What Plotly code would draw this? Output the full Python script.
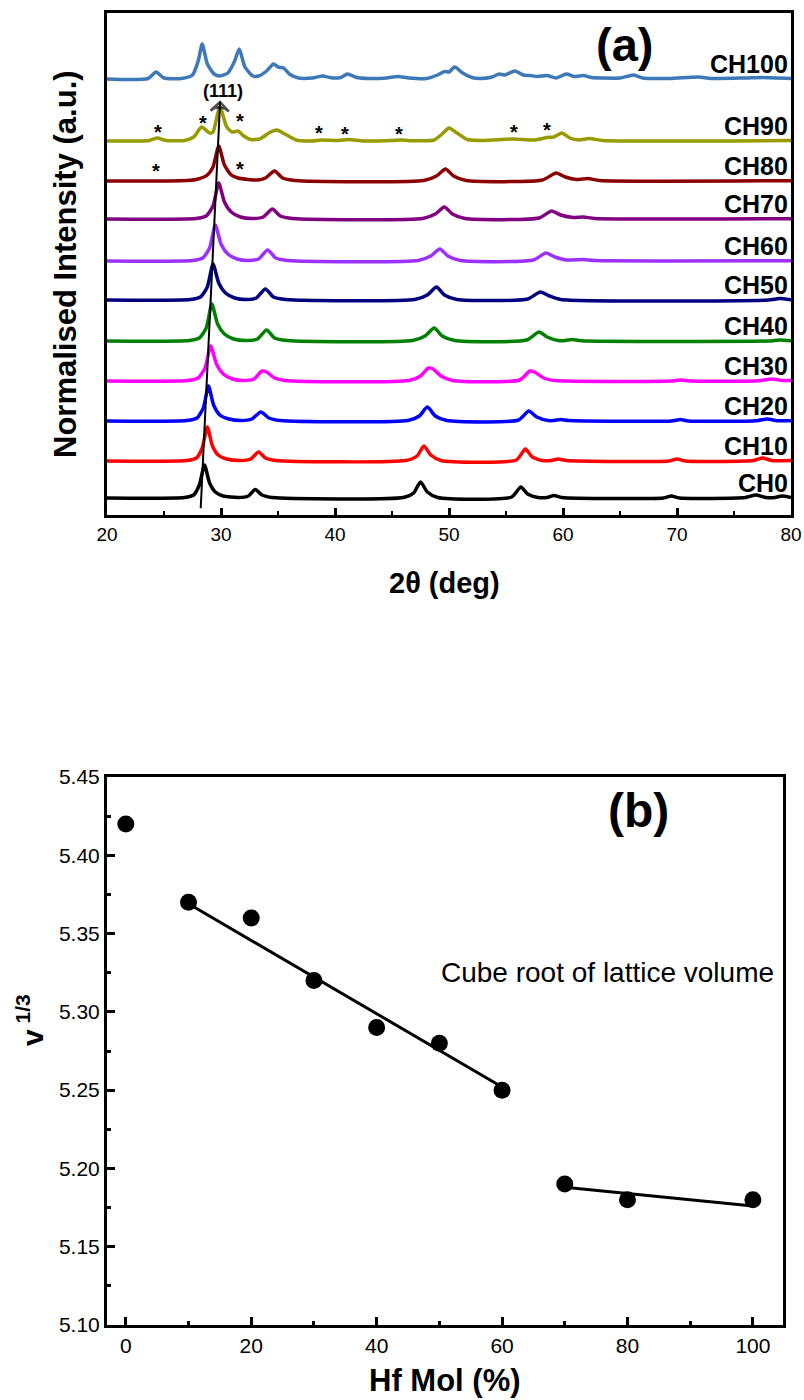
import plotly.graph_objects as go

# ---------------- Panel (a): XRD patterns (2theta, intensity above own baseline) -------------
samples = ["CH0", "CH10", "CH20", "CH30", "CH40", "CH50", "CH60", "CH70", "CH80", "CH90", "CH100"]
colors = ["#000000", "#ff0000", "#0000ff", "#ff00ff", "#008000", "#000080",
          "#9b30ff", "#800080", "#8b0000", "#999900", "#3d79b8"]
stack_offset = [17, 54, 94, 134, 174, 215, 254, 296, 334, 374, 436]

CH0 = [(20, 0), (26.8, 0.5), (27.6, 3), (28.1, 13), (28.55, 33), (29.0, 15), (29.5, 6), (30.2, 2), (31.5, 0.5),
       (32.4, 2), (33.0, 8.5), (33.6, 3), (34.5, 0.5), (46.0, 0.5), (46.9, 5), (47.5, 16), (48.1, 6), (49.0, 0.5),
       (55.5, 1), (56.3, 11), (56.9, 4), (57.8, 0.5), (58.6, 0.5), (59.2, 2.5), (59.9, 0.5), (68.8, 0),
       (69.5, 2), (70.2, 0), (76.0, 0.5), (76.9, 3), (77.8, 0.5), (78.6, 0.5), (79.2, 2), (80, 0.5)]
CH10 = [(20, 0), (27.0, 0.5), (27.85, 3), (28.35, 13), (28.8, 34), (29.25, 15), (29.75, 6), (30.5, 2), (31.7, 0.5),
        (32.6, 2), (33.3, 9), (33.9, 3), (34.8, 0.5), (46.2, 0.5), (47.2, 5), (47.8, 15), (48.4, 6), (49.3, 0.5),
        (55.9, 1), (56.7, 12), (57.3, 4), (58.2, 0.5), (59.0, 0.5), (59.6, 2), (60.3, 0.5), (69.3, 0), (70.0, 2),
        (70.7, 0), (76.7, 0.5), (77.5, 3), (78.3, 0.5), (80, 0.5)]
CH20 = [(20, 0), (27.0, 0.5), (27.9, 3), (28.45, 13), (28.9, 35), (29.35, 16), (29.9, 6), (30.7, 2), (31.8, 0.5),
        (32.7, 2), (33.5, 9), (34.2, 3), (35.2, 0.5), (46.4, 0.5), (47.4, 5), (48.1, 14), (48.8, 5), (49.8, 0.5),
        (56.1, 1), (57.0, 10), (57.7, 4), (58.7, 0.5), (59.2, 0.5), (59.8, 1.5), (60.5, 0.5), (69.5, 0), (70.3, 1.5),
        (71.0, 0), (77.0, 0.3), (77.9, 2), (78.8, 0.3), (80, 0.3)]
CH30 = [(20, 0), (27.1, 0.5), (28.0, 3), (28.6, 13), (29.1, 35), (29.6, 17), (30.2, 7), (31.0, 2), (32.0, 0.5),
        (32.9, 2), (33.6, 10), (34.0, 9), (34.7, 3), (35.6, 0.5), (46.5, 0.5), (47.5, 5), (48.2, 13), (48.6, 12),
        (49.3, 5), (50.3, 0.5), (56.2, 1), (57.1, 10), (57.5, 9), (58.3, 3), (59.3, 0.5), (69.5, 0), (70.3, 1),
        (71.2, 0), (77.2, 0.3), (78.3, 2), (79.3, 0.5), (80, 0.5)]
CH40 = [(20, 0), (27.2, 0.5), (28.1, 3), (28.7, 13), (29.2, 37), (29.7, 17), (30.3, 7), (31.1, 2), (32.2, 0.5),
        (33.2, 2), (34.0, 11), (34.7, 3), (35.8, 0.5), (46.8, 0.5), (47.9, 5), (48.7, 13), (49.4, 5), (50.5, 0.5),
        (56.8, 1), (57.9, 9), (58.6, 4), (59.6, 0.5), (60.2, 0.5), (60.8, 1.5), (61.6, 0.3), (78.0, 0), (79.0, 1),
        (80, 0.3)]
CH50 = [(20, 0), (27.3, 0.5), (28.2, 3), (28.8, 13), (29.3, 36), (29.8, 17), (30.4, 7), (31.2, 2), (32.2, 0.5),
        (33.1, 2), (33.9, 11), (34.6, 3), (35.7, 0.5), (47.0, 0.5), (48.1, 5), (48.9, 13), (49.6, 5), (50.7, 0.5),
        (56.9, 1), (58.0, 8), (58.8, 4), (59.8, 0.5), (78.0, 0), (79.0, 1.5), (80, 0.3)]
CH60 = [(20, 0), (27.5, 0.5), (28.4, 3), (29.0, 13), (29.5, 36), (30.0, 17), (30.6, 7), (31.4, 2), (32.4, 0.5),
        (33.3, 2), (34.1, 11), (34.8, 3), (35.9, 0.5), (47.3, 0.5), (48.4, 5), (49.2, 12), (49.9, 5), (51.0, 0.5),
        (57.4, 1), (58.5, 8), (59.3, 4), (60.3, 1), (61.8, 1.5), (62.8, 0.5), (80, 0.3)]
CH70 = [(20, 0), (27.8, 0.5), (28.7, 3), (29.3, 13), (29.8, 36), (30.3, 17), (30.9, 7), (31.7, 2), (32.7, 0.5),
        (33.7, 2), (34.5, 10), (35.2, 3), (36.3, 0.5), (47.7, 0.5), (48.8, 5), (49.6, 12), (50.3, 5), (51.4, 0.5),
        (57.9, 1), (59.0, 8), (59.8, 4), (60.9, 1.5), (61.8, 2), (62.8, 0.5), (80, 0.3)]
CH80 = [(20, 0), (27.0, 0.5), (28.0, 2), (28.8, 6), (29.3, 14), (29.8, 35), (30.3, 16), (30.9, 6), (31.5, 3),
        (32.4, 1.5), (33.2, 1), (33.9, 3), (34.7, 10), (35.4, 3), (36.5, 0.5), (47.8, 0.5), (48.9, 5), (49.7, 12),
        (50.4, 5), (51.5, 0.5), (58.2, 1), (59.4, 8), (60.2, 4), (61.2, 1.5), (62.2, 2.5), (63.2, 0.5), (80, 0.3)]
CH90 = [(20, 0), (23.7, 0.5), (24.4, 3), (25.2, 0.5), (26.8, 0.5), (27.6, 4), (28.3, 14), (29.0, 8), (29.3, 9),
        (29.9, 34), (30.5, 14), (31.0, 9), (31.5, 10), (32.0, 5), (32.6, 1.5), (33.4, 2), (34.2, 8), (34.9, 11),
        (35.6, 7), (36.6, 1), (38.0, 0), (38.8, 1), (40.3, 0.5), (41.2, 1.5), (42.5, 0), (45.0, 0.5), (45.8, 1),
        (47.0, 0.2), (48.7, 1), (49.4, 7), (50.0, 13), (50.7, 8), (51.6, 1.5), (53.0, 0.5), (55.6, 2), (57.5, 1),
        (58.6, 3.5), (59.2, 4), (59.9, 8), (60.6, 3), (61.4, 1), (62.3, 2.5), (63.5, 0.5), (80, 0.5)]
CH100 = [(20, 0), (23.6, 0.5), (24.3, 7), (25.0, 1), (26.5, 0.5), (27.5, 4), (28.0, 18), (28.35, 35), (28.8, 15),
         (29.4, 5), (29.9, 3), (30.6, 6), (31.2, 18), (31.6, 30), (32.1, 12), (32.8, 3), (33.3, 3), (34.0, 8),
         (34.6, 15), (35.0, 12), (35.5, 11), (36.0, 5), (36.8, 1), (38.0, 1), (38.9, 3), (39.8, 1), (40.5, 1.5),
         (41.1, 5), (41.9, 1.5), (43.0, 0.5), (44.5, 1), (45.5, 2.5), (46.5, 1), (48.0, 0.5), (49.0, 4), (49.6, 7.5),
         (50.0, 7), (50.5, 12), (51.2, 6), (52.0, 1.5), (52.7, 0.5), (53.8, 2), (54.4, 5), (54.9, 4), (55.8, 8),
         (56.5, 4), (57.1, 3.5), (57.8, 2.5), (58.6, 3.5), (59.4, 1), (60.3, 5), (61.0, 2.5), (61.8, 3.5),
         (62.5, 1.5), (63.5, 1), (65.0, 1), (66.2, 4), (67.0, 1), (69.0, 0.5), (70.0, 1), (71.9, 2), (73, 0.5),
         (76, 1), (77.5, 1.5), (80, 0.5)]
patterns = [CH0, CH10, CH20, CH30, CH40, CH50, CH60, CH70, CH80, CH90, CH100]

# impurity (*) positions: (2theta, sample, height above baseline)
star_theta = [24.45, 28.4, 31.7, 38.6, 40.9, 45.6, 55.7, 58.6, 24.3, 31.65]
star_sample = ["CH90"] * 8 + ["CH80"] * 2
star_height = [12, 21, 23, 11, 10, 10, 12, 14, 13, 15]

# (111) guide line endpoints (2theta, height)
guide_theta = [28.22, 29.92]
guide_y = [6.7, 413]

# ---------------- Panel (b): cube root of lattice volume ----------------
hf_mol = [0, 10, 20, 30, 40, 50, 60, 70, 80, 100]
v13 = [5.42, 5.37, 5.36, 5.32, 5.29, 5.28, 5.25, 5.19, 5.18, 5.18]
fit1_x = [10, 60]
fit1_y = [5.369, 5.252]
fit2_x = [70, 100]
fit2_y = [5.188, 5.176]

FONT = "Liberation Sans, Arial, sans-serif"
W, H = 804, 1400
fig = go.Figure()


def paper_text(px, py, text, size, angle=0):
    fig.add_annotation(x=px / W, y=1 - py / H, xref="paper", yref="paper", xanchor="center", yanchor="middle",
                       text=text, showarrow=False, textangle=angle,
                       font=dict(family=FONT, size=size, color="black"))


for name, col, off, pts in zip(samples, colors, stack_offset, patterns):
    fig.add_trace(go.Scatter(
        x=[p[0] for p in pts], y=[p[1] + off for p in pts], mode="lines",
        line=dict(color=col, width=3.5, shape="spline", smoothing=0.6),
        name=name, showlegend=False, xaxis="x", yaxis="y"))
    fig.add_annotation(x=80, xref="x", y=off + 15, yref="y", xanchor="right", yanchor="middle",
                       text="<b>%s</b>" % name, showarrow=False,
                       font=dict(family=FONT, size=25, color="black"), xshift=-1)

for th, s, h in zip(star_theta, star_sample, star_height):
    off = stack_offset[samples.index(s)]
    fig.add_annotation(x=th, y=off + h, xref="x", yref="y", xanchor="center", yanchor="middle",
                       text="<b>*</b>", showarrow=False,
                       font=dict(family=FONT, size=20, color="black"), yshift=-3)

# (111) guide arrow
fig.add_trace(go.Scatter(x=guide_theta, y=guide_y, mode="lines+markers", xaxis="x", yaxis="y",
                         line=dict(color="black", width=2), showlegend=False,
                         marker=dict(symbol=["circle", "arrow-wide-open"], size=[0, 13], angleref="previous",
                                     color="black", line=dict(color="black", width=2.5))))
fig.add_annotation(x=30.15, y=guide_y[1] + 11, xref="x", yref="y", xanchor="center", yanchor="middle",
                   text="<b>(111)</b>", showarrow=False, font=dict(family=FONT, size=18, color="black"))
paper_text(624, 45, "<b>(a)</b>", 47)
paper_text(445, 583, "<b>2θ (deg)</b>", 29)
paper_text(65, 264, "<b>Normalised Intensity (a.u.)</b>", 31, -90)

# panel (b)
fig.add_trace(go.Scatter(x=fit1_x, y=fit1_y, mode="lines", line=dict(color="black", width=3),
                         showlegend=False, xaxis="x2", yaxis="y2"))
fig.add_trace(go.Scatter(x=fit2_x, y=fit2_y, mode="lines", line=dict(color="black", width=3),
                         showlegend=False, xaxis="x2", yaxis="y2"))
fig.add_trace(go.Scatter(x=hf_mol, y=v13, mode="markers", marker=dict(color="black", size=17),
                         showlegend=False, xaxis="x2", yaxis="y2"))
paper_text(638, 810, "<b>(b)</b>", 48)
paper_text(607, 972, "Cube root of lattice volume", 28)
paper_text(445, 1380, "<b>Hf Mol (%)</b>", 31)
paper_text(30, 1020, "<b>v<sup> 1/3</sup></b>", 30, -90)

axcommon = dict(showline=True, linewidth=3, linecolor="black", mirror=True, showgrid=False, zeroline=False,
                tickwidth=3, tickcolor="black", automargin=False)

fig.update_layout(
    width=W, height=H, margin=dict(l=0, r=0, t=0, b=0, autoexpand=False),
    paper_bgcolor="white", plot_bgcolor="white",
    font=dict(family=FONT, color="black"),
    xaxis=dict(domain=[107 / W, 791 / W], range=[20, 80], dtick=10, tick0=20, ticks="inside", ticklen=7,
               minor=dict(dtick=5, ticks="inside", ticklen=4, tickwidth=2, tickcolor="black"),
               tickfont=dict(size=19), anchor="y", **axcommon),
    yaxis=dict(domain=[1 - 515 / H, 1 - 13 / H], range=[0, 502], showticklabels=False, ticks="",
               anchor="x", **axcommon),
    xaxis2=dict(domain=[107 / W, 783 / W], range=[-3, 104.8], dtick=20, tick0=0, ticks="inside", ticklen=8,
                minor=dict(dtick=10, ticks="inside", ticklen=4, tickwidth=3, tickcolor="black"),
                tickfont=dict(size=21), anchor="y2", **axcommon),
    yaxis2=dict(domain=[1 - 1325 / H, 1 - 777 / H], range=[5.10, 5.45], dtick=0.05, tick0=5.10,
                tickformat=".2f", ticks="inside", ticklen=8,
                minor=dict(dtick=0.025, ticks="inside", ticklen=4, tickwidth=3, tickcolor="black"),
                tickfont=dict(size=21), anchor="x2", **axcommon),
)

fig.write_html("out.html")
